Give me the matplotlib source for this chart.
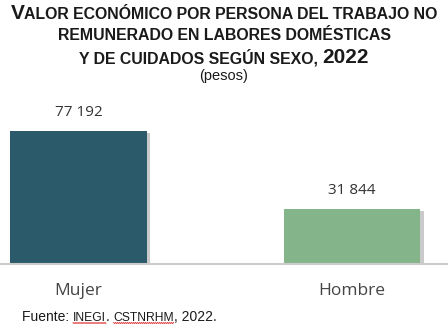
import matplotlib
matplotlib.use("Agg")
import matplotlib.pyplot as plt
import matplotlib.patheffects as pe
import numpy as np

categorias = ["Mujer", "Hombre"]
valores = [77192, 31844]
etiquetas = ["77 192", "31 844"]
colores = ["#2B5B6A", "#84B48A"]

W, H = 448, 325
fig = plt.figure(figsize=(W / 100, H / 100), dpi=100)
ax = fig.add_axes([0, 1 - 264 / H, 1, 169 / H])

bars = ax.bar(range(len(valores)), valores, width=0.5, color=colores, zorder=2)
for b in bars:
    b.set_path_effects([pe.SimplePatchShadow(offset=(2.5, -1.5), shadow_rgbFace="#8a8a8a", alpha=0.45), pe.Normal()])

for i, (v, t) in enumerate(zip(valores, etiquetas)):
    ax.annotate(t, (i, v), xytext=(0, 8), textcoords="offset points", ha="center", va="bottom",
                fontsize=11, color="#333333", family="Open Sans")

ax.set_xlim(-0.287, 1.351)
ax.set_ylim(0, 98000)
ax.set_xticks(range(len(categorias)))
ax.set_xticklabels(categorias, fontsize=12.5, color="#444444", family="Open Sans")
ax.tick_params(axis="x", length=0, pad=14)
ax.set_yticks([])
for s in ["top", "right", "left"]:
    ax.spines[s].set_visible(False)
ax.spines["bottom"].set_color("#cccccc")
ax.spines["bottom"].set_linewidth(1.5)

fig.canvas.draw()
r = fig.canvas.get_renderer()


def colocar(partes, yb, x0=None, bold=False):
    # partes: list of (texto, tamaño); yb = baseline en px desde arriba
    objs = []
    for txt, sz in partes:
        objs.append(fig.text(0, 1 - yb / H, txt, fontsize=sz, fontweight="bold" if bold else "normal",
                             family="Liberation Sans", color="#1a1a1a", va="baseline"))
    anchos = [o.get_window_extent(r).width for o in objs]
    x = (W - sum(anchos)) / 2 if x0 is None else x0
    pos = []
    for o, a in zip(objs, anchos):
        o.set_position((x / W, 1 - yb / H))
        pos.append((x, a))
        x += a
    return pos


colocar([("V", 15), ("ALOR ECONÓMICO POR PERSONA DEL TRABAJO NO", 11.4)], 19, bold=True)
colocar([("REMUNERADO EN LABORES DOMÉSTICAS", 11.4)], 40, bold=True)
colocar([("Y DE CUIDADOS SEGÚN SEXO, ", 11.4), ("2022", 15)], 63, bold=True)
fig.text(0.5, 1 - 76 / H, "(pesos)", ha="center", va="center", fontsize=10.5, family="Liberation Sans",
         color="#1a1a1a")

# fuente, con las siglas más pequeñas y subrayado ondulado
pos = colocar([("Fuente: ", 10), ("INEGI", 8.7), (". ", 10), ("CSTNRHM", 8.7), (", 2022.", 10)], 321, x0=22)
for k in (1, 3):
    x, a = pos[k]
    xs = np.arange(x, x + a + 0.1, 1.0)
    ys = 323 + 0.6 * ((np.arange(len(xs)) % 2) * 2 - 1)
    fig.add_artist(plt.Line2D(xs / W, 1 - ys / H, color="#e03030", lw=0.6, transform=fig.transFigure))

fig.savefig("out.png", dpi=100)
